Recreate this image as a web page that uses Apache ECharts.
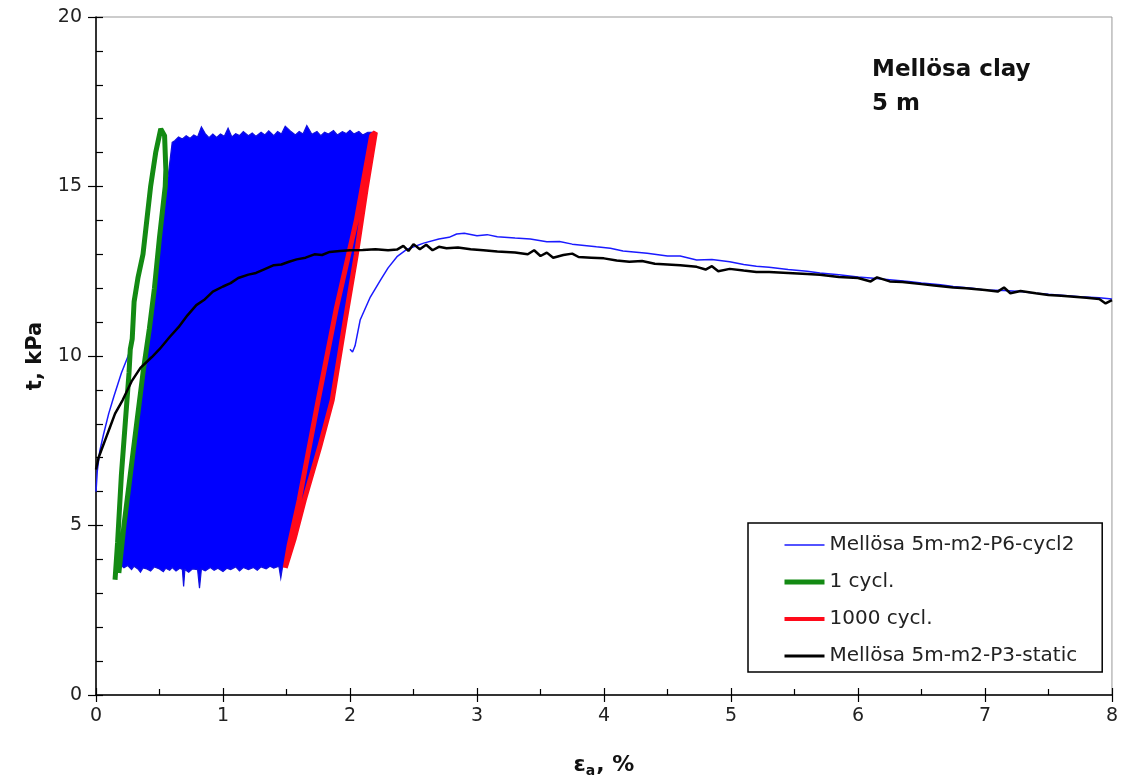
<!DOCTYPE html>
<html>
<head>
<meta charset="utf-8">
<script src="https://cdn.jsdelivr.net/npm/echarts@6/dist/echarts.min.js"></script>
<style>
html,body{margin:0;padding:0;background:#fff;}
#chart{width:1121px;height:784px;}
</style>
</head>
<body>
<div id="chart"></div>
<script>
// ---- Data ----
const xTicks = [0, 1, 2, 3, 4, 5, 6, 7, 8];
const yTicks = [0, 5, 10, 15, 20];
const legendNames = ['Mellösa 5m-m2-P6-cycl2', '1 cycl.', '1000 cycl.', 'Mellösa 5m-m2-P3-static'];

// cyclic test: first loading before cycling (thin blue)
const cyclInitial = [[0,6.0],[0.01,6.6],[0.03,7.2],[0.06,7.7],[0.1,8.3],[0.14,8.8],[0.2,9.5],[0.25,9.97],[0.27,10.2],[0.29,10.5]];
// cyclic test: monotonic loading after cycling (thin blue)
const cyclFinal = [[2.0,10.2],[2.02,10.12],[2.04,10.3],[2.08,11.06],[2.16,11.74],[2.24,12.24],[2.3,12.6],[2.37,12.93],[2.45,13.15],[2.58,13.33],[2.7,13.45],[2.78,13.5],[2.84,13.6],[2.9,13.62],[3.0,13.55],[3.08,13.58],[3.16,13.52],[3.3,13.48],[3.42,13.45],[3.55,13.37],[3.65,13.38],[3.75,13.3],[3.94,13.22],[4.05,13.18],[4.15,13.1],[4.34,13.03],[4.5,12.95],[4.6,12.95],[4.73,12.83],[4.85,12.85],[4.99,12.78],[5.1,12.7],[5.2,12.65],[5.3,12.62],[5.45,12.55],[5.6,12.5],[5.7,12.45],[5.85,12.4],[6.0,12.33],[6.1,12.3],[6.25,12.25],[6.4,12.2],[6.5,12.15],[6.65,12.1],[6.75,12.05],[6.9,12.0],[7.0,11.95],[7.15,11.93],[7.28,11.9],[7.4,11.85],[7.5,11.82],[7.65,11.78],[7.75,11.75],[7.9,11.72],[8.0,11.68]];
// envelope of the ~1000 dense load cycles (filled blue band)
const cyclBottom = [[0.19,3.85],[0.22,3.75],[0.25,3.82],[0.28,3.7],[0.3,3.8],[0.33,3.72],[0.35,3.62],[0.37,3.75],[0.4,3.72],[0.43,3.66],[0.46,3.78],[0.5,3.72],[0.53,3.64],[0.55,3.74],[0.58,3.68],[0.6,3.76],[0.63,3.66],[0.66,3.74],[0.68,3.7],[0.69,3.2],[0.7,3.7],[0.73,3.62],[0.76,3.72],[0.8,3.7],[0.815,3.15],[0.83,3.72],[0.86,3.66],[0.9,3.76],[0.93,3.68],[0.96,3.74],[1.0,3.64],[1.03,3.74],[1.06,3.7],[1.1,3.78],[1.13,3.66],[1.16,3.76],[1.2,3.7],[1.24,3.76],[1.27,3.68],[1.3,3.78],[1.34,3.72],[1.37,3.8],[1.4,3.74],[1.44,3.8],[1.455,3.45],[1.47,3.8],[1.49,3.8]];
const cyclRight = [[1.56,4.6],[1.64,5.75],[1.76,7.3],[1.86,8.7],[1.96,11.0],[2.05,13.0],[2.13,15.0],[2.18,16.6]];
const cyclTop = [[2.14,16.6],[2.1,16.52],[2.07,16.62],[2.03,16.55],[2.0,16.66],[1.97,16.56],[1.94,16.62],[1.9,16.52],[1.87,16.65],[1.83,16.55],[1.8,16.6],[1.77,16.5],[1.74,16.62],[1.7,16.54],[1.66,16.8],[1.63,16.55],[1.6,16.62],[1.57,16.52],[1.53,16.64],[1.49,16.78],[1.46,16.55],[1.43,16.62],[1.4,16.5],[1.36,16.64],[1.33,16.52],[1.3,16.6],[1.26,16.48],[1.23,16.58],[1.2,16.5],[1.16,16.62],[1.13,16.5],[1.1,16.56],[1.07,16.46],[1.04,16.72],[1.01,16.48],[0.98,16.55],[0.95,16.45],[0.92,16.55],[0.89,16.44],[0.86,16.56],[0.83,16.76],[0.8,16.46],[0.77,16.52],[0.74,16.42],[0.71,16.5],[0.68,16.4],[0.65,16.46],[0.62,16.35],[0.6,16.3]];
const cyclLeft = [[0.43,11.0],[0.27,6.5],[0.21,4.5]];

// first cycle (green) and cycle 1000 (red)
const cycle1 = [[0.15,3.4],[0.17,4.5],[0.2,6.5],[0.23,8.0],[0.26,9.5],[0.27,10.2],[0.285,10.5],[0.3,11.6],[0.33,12.3],[0.37,13.0],[0.4,14.0],[0.43,15.0],[0.47,16.0],[0.51,16.7],[0.54,16.5],[0.55,15.5],[0.545,15.0],[0.5,13.5],[0.46,12.0],[0.42,10.8],[0.37,9.5],[0.32,8.0],[0.27,6.5],[0.22,5.0],[0.18,3.6]];
const cycle1000 = [[1.49,3.75],[1.56,4.6],[1.64,5.75],[1.76,7.3],[1.86,8.7],[1.96,11.0],[2.05,13.0],[2.13,15.0],[2.2,16.6],[2.17,16.5],[2.05,14.0],[1.89,11.36],[1.75,8.7],[1.6,5.75],[1.52,4.4],[1.49,3.75]];

// static test (black)
const staticCurve = [[0,6.65],[0.02,7.0],[0.05,7.3],[0.08,7.6],[0.11,7.9],[0.15,8.3],[0.21,8.7],[0.28,9.25],[0.35,9.65],[0.44,9.97],[0.5,10.2],[0.58,10.56],[0.65,10.85],[0.72,11.2],[0.79,11.5],[0.85,11.65],[0.92,11.9],[1.0,12.05],[1.06,12.15],[1.12,12.3],[1.2,12.4],[1.26,12.45],[1.32,12.55],[1.4,12.68],[1.46,12.7],[1.52,12.78],[1.58,12.85],[1.65,12.9],[1.72,13.0],[1.78,12.98],[1.84,13.07],[1.92,13.1],[2.0,13.12],[2.1,13.13],[2.2,13.15],[2.3,13.12],[2.37,13.14],[2.42,13.25],[2.46,13.1],[2.5,13.3],[2.55,13.15],[2.6,13.28],[2.65,13.12],[2.7,13.22],[2.76,13.18],[2.85,13.2],[2.95,13.15],[3.05,13.12],[3.16,13.08],[3.3,13.05],[3.4,13.0],[3.45,13.12],[3.5,12.95],[3.55,13.05],[3.6,12.9],[3.68,12.98],[3.75,13.02],[3.8,12.92],[3.9,12.9],[4.0,12.88],[4.1,12.82],[4.2,12.78],[4.3,12.8],[4.4,12.72],[4.5,12.7],[4.6,12.68],[4.73,12.63],[4.8,12.55],[4.85,12.65],[4.9,12.5],[4.99,12.57],[5.1,12.52],[5.2,12.48],[5.3,12.48],[5.45,12.45],[5.6,12.42],[5.7,12.4],[5.85,12.33],[6.0,12.3],[6.1,12.2],[6.15,12.32],[6.25,12.2],[6.35,12.18],[6.5,12.12],[6.6,12.08],[6.75,12.02],[6.85,12.0],[7.0,11.95],[7.1,11.9],[7.15,12.02],[7.2,11.85],[7.28,11.92],[7.4,11.85],[7.5,11.8],[7.6,11.78],[7.7,11.75],[7.8,11.72],[7.9,11.68],[7.95,11.55],[8.0,11.65]];

const annotation = ['Mellösa clay', '5 m'];

// ---- Chart ----
const cyclEnvelope = cyclBottom.concat(cyclRight, cyclTop, cyclLeft);
const chart = echarts.init(document.getElementById('chart'), null, {renderer: 'canvas'});
const FONT = 'DejaVu Sans';

function xAxisBase(extra) {
  return Object.assign({
    type: 'value', min: xTicks[0], max: xTicks[xTicks.length - 1], interval: 1,
    position: 'bottom', splitLine: {show: false},
    axisLine: {onZero: false, lineStyle: {color: '#000', width: 1.5}}
  }, extra);
}
function yAxisBase(extra) {
  return Object.assign({
    type: 'value', min: yTicks[0], max: yTicks[yTicks.length - 1], interval: 5,
    position: 'left', splitLine: {show: false},
    axisLine: {onZero: false, lineStyle: {color: '#000', width: 1.5}}
  }, extra);
}

chart.setOption({
  animation: false,
  backgroundColor: '#fff',
  grid: {left: 96, right: 9, top: 17, bottom: 89, show: true, borderColor: '#999', borderWidth: 1},
  xAxis: [
    xAxisBase({
      axisTick: {show: true, inside: false, length: 7, lineStyle: {color: '#000', width: 1.2}},
      axisLabel: {fontFamily: FONT, fontSize: 19, color: '#222', margin: 12},
      name: '{e|ε}{s|a}{e|, %}', nameLocation: 'middle', nameGap: 57,
      nameTextStyle: {rich: {
        e: {fontFamily: FONT, fontSize: 22, fontWeight: 'bold', color: '#111'},
        s: {fontFamily: FONT, fontSize: 14, fontWeight: 'bold', color: '#111', padding: [12, 1, 0, 0]}
      }}
    }),
    xAxisBase({
      axisLine: {show: false},
      axisTick: {show: true, inside: true, length: 7, lineStyle: {color: '#000', width: 1.2}},
      minorTick: {show: true, splitNumber: 2, length: 6, lineStyle: {color: '#000', width: 1.2}},
      axisLabel: {show: false}
    })
  ],
  yAxis: [
    yAxisBase({
      axisTick: {show: true, inside: false, length: 8, lineStyle: {color: '#000', width: 1.2}},
      axisLabel: {fontFamily: FONT, fontSize: 19, color: '#222', margin: 14},
      name: 't, kPa', nameLocation: 'middle', nameGap: 50,
      nameTextStyle: {fontFamily: FONT, fontSize: 21, fontWeight: 'bold', color: '#111'}
    }),
    yAxisBase({
      axisLine: {show: false},
      axisTick: {show: true, inside: true, length: 7, lineStyle: {color: '#000', width: 1.2}},
      minorTick: {show: true, splitNumber: 5, length: 7, lineStyle: {color: '#000', width: 1.2}},
      axisLabel: {show: false}
    })
  ],
  legend: {
    data: [
      {name: legendNames[0], lineStyle: {width: 1.5}},
      {name: legendNames[1], lineStyle: {width: 5}},
      {name: legendNames[2], lineStyle: {width: 4}},
      {name: legendNames[3], lineStyle: {width: 3}}
    ],
    orient: 'vertical', left: 748, top: 523,
    padding: [12, 25, 6, 34],
    itemWidth: 40, itemHeight: 14, itemGap: 17,
    itemStyle: {opacity: 0},
    borderColor: '#000', borderWidth: 1.5, backgroundColor: '#fff',
    textStyle: {fontFamily: FONT, fontSize: 20, color: '#222'},
    selectedMode: false
  },
  graphic: [
    {type: 'text', left: 872, top: 59, style: {text: annotation[0], fontFamily: FONT, fontSize: 23, fontWeight: 'bold', fill: '#111'}},
    {type: 'text', left: 872, top: 93, style: {text: annotation[1], fontFamily: FONT, fontSize: 23, fontWeight: 'bold', fill: '#111'}}
  ],
  series: [
    {
      name: legendNames[0], type: 'line', data: cyclInitial, symbol: 'none', z: 3,
      lineStyle: {color: '#1a1aff', width: 1.5}, itemStyle: {color: '#1a1aff'}
    },
    {
      name: legendNames[0], type: 'custom', data: cyclEnvelope, z: 1, silent: true,
      encode: {x: 0, y: 1},
      renderItem: function (params, api) {
        if (params.dataIndex !== 0) return null;
        const pts = cyclEnvelope.map(function (p) { return api.coord(p); });
        return {type: 'polygon', shape: {points: pts}, style: {fill: '#0000ff', stroke: '#1010e0', lineWidth: 1.2}};
      }
    },
    {
      name: legendNames[0], type: 'line', data: cyclFinal, symbol: 'none', z: 3,
      lineStyle: {color: '#1a1aff', width: 1.5}, itemStyle: {color: '#1a1aff'}
    },
    {
      name: legendNames[1], type: 'line', data: cycle1, symbol: 'none', z: 4,
      lineStyle: {color: '#138a13', width: 5}, itemStyle: {color: '#138a13'}
    },
    {
      name: legendNames[2], type: 'line', data: cycle1000, symbol: 'none', z: 4,
      lineStyle: {color: '#ff0a1a', width: 5}, itemStyle: {color: '#ff0a1a'}
    },
    {
      name: legendNames[3], type: 'line', data: staticCurve, symbol: 'none', z: 5,
      lineStyle: {color: '#000', width: 2.5}, itemStyle: {color: '#000'}
    }
  ]
});
</script>
</body>
</html>
